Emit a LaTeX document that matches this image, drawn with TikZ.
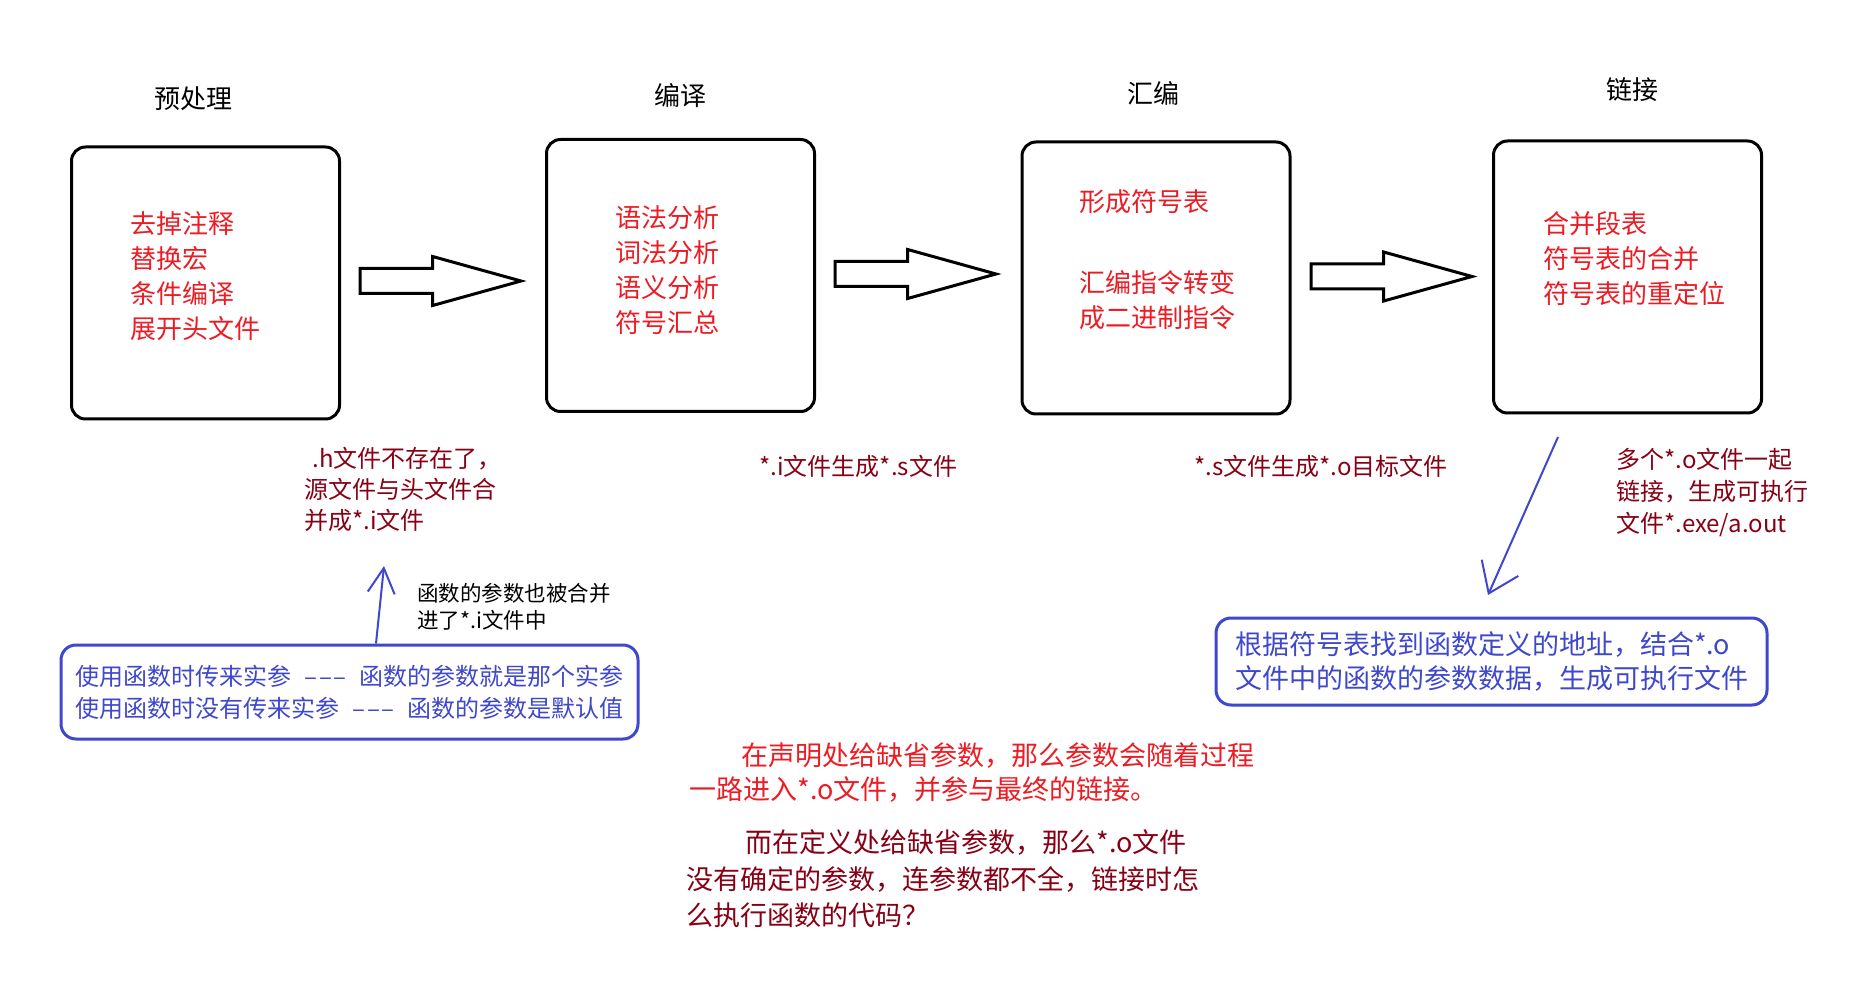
\documentclass[tikz,border=0pt]{standalone}
\usepackage{fontspec}
\setmainfont{Noto Sans CJK SC}
\usetikzlibrary{shapes.arrows,arrows.meta,calc}
\definecolor{pred}{RGB}{237,28,36}
\definecolor{pdark}{RGB}{136,0,21}
\definecolor{pblue}{RGB}{63,72,204}
\newcommand{\argdash}{\hspace{6.5pt}\textendash\kern1pt\textendash\kern1pt\textendash\hspace{6.5pt}}
\begin{document}
\begin{tikzpicture}
    [
    x=0.5pt,y=-0.5pt,
    stage/.style={draw,line width=1.5pt,rounded corners=7pt,minimum width=134pt,minimum height=136pt},
    title/.style={font=\fontsize{13pt}{16pt}\selectfont},
    steps/.style={anchor=north west,inner sep=0pt,align=left,text=pred,font=\fontsize{13pt}{17.5pt}\selectfont},
    note/.style={anchor=north west,inner sep=0pt,align=left,text=pdark,font=\fontsize{12pt}{15.5pt}\selectfont},
    blockarrow/.style={single arrow,draw,line width=1.5pt,fill=white,minimum height=80.5pt,anchor=tail,
        inner xsep=0pt,inner ysep=5.5pt,single arrow head extend=6pt,single arrow tip angle=31},
    memo/.style={draw=pblue,text=pblue,line width=1.5pt,rounded corners=7.5pt,align=left,inner sep=0pt},
    bluearrow/.style={draw=pblue,line width=1pt},
    ]
    \fill[white] (0,0) rectangle (1868,989);

    \node[stage] (pre) at (205.5,283) {};
    \node[stage] (comp) at (680.5,275.5) {};
    \node[stage] (asm) at (1156,278) {};
    \node[stage] (link) at (1627.5,277) {};

    \node[title] (pretitle) at (193,99) {预处理};
    \node[title] (comptitle) at (680,96) {编译};
    \node[title] (asmtitle) at (1153,93) {汇编};
    \node[title] (linktitle) at (1632,90) {链接};

    \node[steps] (presteps) at (130,211) {去掉注释\\替换宏\\条件编译\\展开头文件};
    \node[steps] (compsteps) at (615,205) {语法分析\\词法分析\\语义分析\\符号汇总};
    \node[steps] (asmsteps) at (1079,189) {形成符号表\\[23pt]汇编指令转变\\成二进制指令};
    \node[steps] (linksteps) at (1543,211) {合并段表\\符号表的合并\\符号表的重定位};

    \node[blockarrow] (arr1) at (358.5,281) {};
    \node[blockarrow] (arr2) at (833.5,274) {};
    \node[blockarrow] (arr3) at (1309.5,276.5) {};

    \node[note] (prenote) at (304,446.5) {\hspace*{4pt}.h文件不存在了，\\源文件与头文件合\\并成*.i文件};
    \node[note] (compnote) at (759,455) {*.i文件生成*.s文件};
    \node[note] (asmnote) at (1194,455) {*.s文件生成*.o目标文件};
    \node[note,font=\fontsize{12pt}{16pt}\selectfont] (linknote) at (1616,448) {多个*.o文件一起\\链接，生成可执行\\文件*.exe/a.out};

    \node[memo,minimum width=288.5pt,minimum height=47pt,font=\fontsize{12pt}{16pt}\selectfont] (argmemo) at (349.5,692)
        {使用函数时传来实参\argdash 函数的参数就是那个实参\\使用函数时没有传来实参\argdash 函数的参数是默认值};
    \node[memo,minimum width=275.5pt,minimum height=43.5pt,font=\fontsize{13.5pt}{17pt}\selectfont] (linkmemo) at (1491.5,661.5)
        {根据符号表找到函数定义的地址，结合*.o\\文件中的函数的参数数据，生成可执行文件};

    \node[anchor=north west,inner sep=0pt,align=left,font=\fontsize{10.75pt}{13.5pt}\selectfont] (argnote) at (417,583)
        {函数的参数也被合并\\进了*.i文件中};

    \node[anchor=north west,inner sep=0pt,align=left,text=pred,font=\fontsize{13.5pt}{17pt}\selectfont] (declnote) at (689,742)
        {\hspace*{26pt}在声明处给缺省参数，那么参数会随着过程\\一路进入*.o文件，并参与最终的链接。};
    \node[anchor=north west,inner sep=0pt,align=left,text=pdark,font=\fontsize{13.5pt}{18.25pt}\selectfont] (defnote) at (686,829.5)
        {\hspace*{29.5pt}而在定义处给缺省参数，那么*.o文件\\没有确定的参数，连参数都不全，链接时怎\\么执行函数的代码？};

    \coordinate (uptip) at (384,566);
    \coordinate (dntop) at (1558,437);
    \coordinate (dntip) at (1488,595);
    \draw[bluearrow,-{Straight Barb[length=12.5pt,width=13.5pt]}] ($(argmemo.north)+(26.5,0)$) -- (uptip);
    \draw[bluearrow,-{Straight Barb[length=14pt,width=20pt]}] (dntop) -- (dntip);
\end{tikzpicture}
\end{document}
